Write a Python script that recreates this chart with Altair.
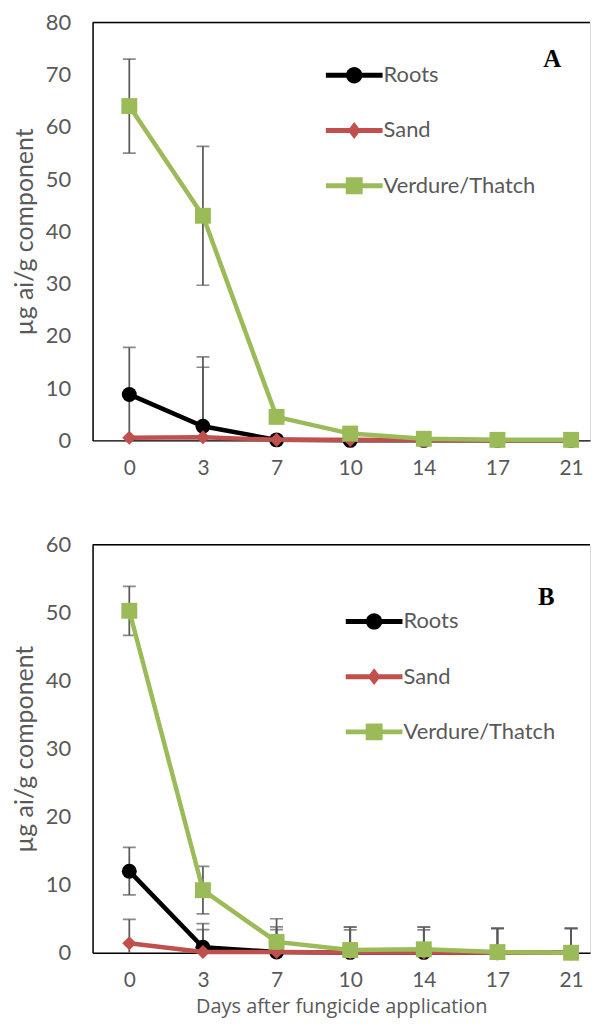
import altair as alt
import pandas as pd

# ---------------- data ----------------
days = ["0", "3", "7", "10", "14", "17", "21"]
series_names = ["Roots", "Sand", "Verdure/Thatch"]

# Panel A
a_roots = [8.8, 2.7, 0.1, 0.0, 0.0, 0.0, 0.0]
a_roots_err = [9.0, 13.3, 0.0, 0.0, 0.0, 0.0, 0.0]
a_sand = [0.5, 0.6, 0.1, 0.1, 0.05, 0.0, 0.0]
a_sand_err = [0.0, 13.4, 0.0, 0.0, 0.0, 0.0, 0.0]
a_verd = [64.0, 43.0, 4.5, 1.3, 0.3, 0.1, 0.1]
a_verd_err = [9.0, 13.3, 0.0, 0.0, 0.0, 0.0, 0.0]

# Panel B
b_roots = [12.0, 0.8, 0.1, 0.05, 0.05, 0.0, 0.0]
b_roots_err = [3.5, 3.5, 3.7, 3.7, 3.7, 3.6, 3.6]
b_sand = [1.4, 0.1, 0.1, 0.05, 0.05, 0.0, 0.0]
b_sand_err = [3.5, 3.3, 3.3, 3.3, 3.3, 3.6, 3.6]
b_verd = [50.3, 9.2, 1.6, 0.4, 0.5, 0.1, 0.0]
b_verd_err = [3.6, 3.5, 3.4, 3.4, 3.3, 3.5, 3.6]

y_ticks_a = [0, 10, 20, 30, 40, 50, 60, 70, 80]
y_ticks_b = [0, 10, 20, 30, 40, 50, 60]
panel_letters = ["A", "B"]
y_title = "µg ai/g component"
x_title = "Days after fungicide application"

# ---------------- style ----------------
colors = ["#000000", "#C0504D", "#9BBB59"]
markers = ["circle", "diamond", "square"]
marker_sizes = [225, 200, 256]
ERR_COLOR = "#5A5A5A"
TEXT_COLOR = "#595959"
FONT = "Lato"
W = 500


def leg_paths():
    hl, ht = 2.85, 0.25
    r = 0.82
    bar = f"M{-hl},{-ht}H{hl}V{ht}H{-hl}Z"
    circ = bar + f" M{-r},0A{r},{r} 0 1,1 {r},0A{r},{r} 0 1,1 {-r},0Z"
    dia = bar + " M0,-0.85L0.65,0L0,0.85L-0.65,0Z"
    sq = bar + " M-0.85,-0.85H0.85V0.85H-0.85Z"
    return [circ, dia, sq]


def make_df(vals, errs):
    rows = []
    for s, v, e in zip(series_names, vals, errs):
        for d, vv, ee in zip(days, v, e):
            rows.append({"day": d, "series": s, "value": vv, "err": ee,
                         "lo": vv - ee, "hi": vv + ee})
    return pd.DataFrame(rows)


def panel(vals, errs, ymax, yticks, H, letter, leg_x, leg_y, let_x, let_y, show_x_title):
    df = make_df(vals, errs)
    xscale = alt.Scale(type="point", domain=days, padding=0.378, align=0.66)
    xaxis = alt.Axis(
        domainColor="black", domainWidth=1.5, ticks=False, grid=False,
        labelAngle=0, labelFont=FONT, labelFontSize=21, labelColor=TEXT_COLOR,
        labelPadding=17, title=x_title if show_x_title else None,
        titleFont="Open Sans", titleFontSize=20, titleColor=TEXT_COLOR,
        titleFontWeight="normal", titlePadding=6,
    )
    yscale = alt.Scale(domain=[0, ymax], nice=False, zero=True)
    yaxis = alt.Axis(
        values=yticks, domainColor="black", domainWidth=1.5, ticks=False, grid=False,
        labelFont=FONT, labelFontSize=22, labelColor=TEXT_COLOR, labelPadding=22,
        title=y_title, titleFont=FONT, titleFontSize=25, titleColor=TEXT_COLOR,
        titleFontWeight="normal", titlePadding=8,
    )
    X = alt.X("day:O", scale=xscale, axis=xaxis, sort=days)

    base = alt.Chart(df)

    top = alt.Chart(pd.DataFrame({"k": [0]})).mark_rule(
        color="black", strokeWidth=1.5
    ).encode(x=alt.value(0), x2=alt.value(W), y=alt.value(0))

    err_rule = base.mark_rule(color=ERR_COLOR, strokeWidth=1.75, clip=True).encode(
        x=X, y=alt.Y("lo:Q", scale=yscale, axis=yaxis), y2="hi:Q"
    ).transform_filter("datum.err > 0")
    cap_hi = base.mark_tick(color=ERR_COLOR, thickness=1.75, size=13, clip=True).encode(
        x=X, y=alt.Y("hi:Q", scale=yscale, axis=yaxis)
    ).transform_filter("datum.err > 0")
    cap_lo = base.mark_tick(color=ERR_COLOR, thickness=1.75, size=13, clip=True).encode(
        x=X, y=alt.Y("lo:Q", scale=yscale, axis=yaxis)
    ).transform_filter("datum.err > 0")

    layers = [top, err_rule, cap_hi, cap_lo]
    for s, c, m, sz in zip(series_names, colors, markers, marker_sizes):
        sub = base.transform_filter(alt.datum.series == s)
        line = sub.mark_line(color=c, strokeWidth=4.5).encode(
            x=X, y=alt.Y("value:Q", scale=yscale, axis=yaxis)
        )
        pts = sub.mark_point(shape=m, filled=True, size=sz, color=c, opacity=1).encode(
            x=X, y=alt.Y("value:Q", scale=yscale, axis=yaxis)
        )
        layers += [line, pts]

    leg = alt.Legend(
        orient="none", legendX=leg_x, legendY=leg_y, title=None, padding=0,
        symbolSize=400, symbolStrokeWidth=0, symbolOpacity=1,
        labelFont=FONT, labelFontSize=22, labelColor=TEXT_COLOR,
        labelOffset=18.5, rowPadding=33.5, labelLimit=400,
    )
    leg_df = pd.DataFrame({"series": series_names})
    legend_layer = alt.Chart(leg_df).mark_point(filled=True, opacity=0).encode(
        color=alt.Color("series:N", scale=alt.Scale(domain=series_names, range=colors), legend=leg),
        shape=alt.Shape("series:N", scale=alt.Scale(domain=series_names, range=leg_paths()), legend=leg),
    )
    layers.append(legend_layer)

    letter_layer = alt.Chart(pd.DataFrame({"t": [letter]})).mark_text(
        font="Liberation Serif", fontWeight="bold", fontSize=25, color="black",
        align="center", baseline="middle",
    ).encode(text="t:N", x=alt.value(let_x), y=alt.value(let_y))
    layers.append(letter_layer)

    return alt.layer(*layers).properties(width=W, height=H)


pA = panel([a_roots, a_sand, a_verd], [a_roots_err, a_sand_err, a_verd_err],
           80, y_ticks_a, 420, panel_letters[0], 252, 42, 462, 37, False)
pB = panel([b_roots, b_sand, b_verd], [b_roots_err, b_sand_err, b_verd_err],
           60, y_ticks_b, 410, panel_letters[1], 272, 66, 456, 52, True)

chart = alt.vconcat(pA, pB, spacing=54).resolve_scale(
    color="independent", shape="independent"
).properties(
    padding={"left": 3, "top": 0, "right": 0, "bottom": 0}
).configure_view(stroke=None).configure(background="white")

chart.save("out.html", embed_options={"renderer": "svg", "actions": False})
